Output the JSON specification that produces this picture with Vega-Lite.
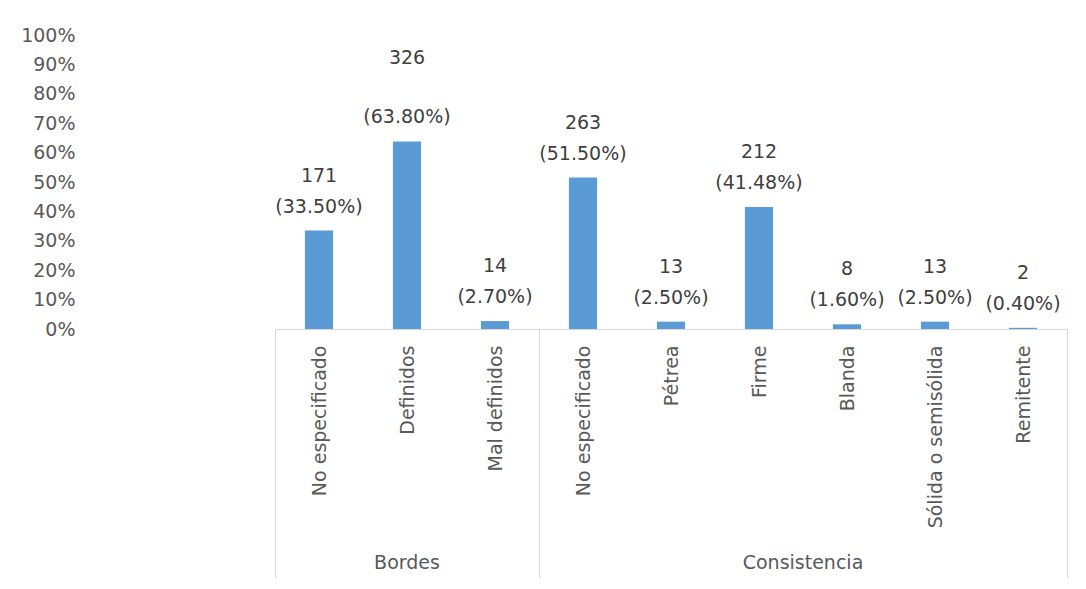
{
  "$schema": "https://vega.github.io/schema/vega-lite/v6.json",
  "width": 792,
  "height": 294,
  "autosize": "none",
  "padding": {"left": 275, "top": 35, "right": 19, "bottom": 260},
  "background": "white",
  "config": {"view": {"stroke": null}, "font": "DejaVu Sans", "axisY": {"labelOverlap": false}},
  "data": {
    "values": [
      {"key": "Bordes|No especificado", "group": "Bordes", "name": "No especificado", "n": 171, "pct": 0.335, "pct_text": "(33.50%)"},
      {"key": "Bordes|Definidos", "group": "Bordes", "name": "Definidos", "n": 326, "pct": 0.638, "pct_text": "(63.80%)"},
      {"key": "Bordes|Mal definidos", "group": "Bordes", "name": "Mal definidos", "n": 14, "pct": 0.027, "pct_text": "(2.70%)"},
      {"key": "Consistencia|No especificado", "group": "Consistencia", "name": "No especificado", "n": 263, "pct": 0.515, "pct_text": "(51.50%)"},
      {"key": "Consistencia|Pétrea", "group": "Consistencia", "name": "Pétrea", "n": 13, "pct": 0.025, "pct_text": "(2.50%)"},
      {"key": "Consistencia|Firme", "group": "Consistencia", "name": "Firme", "n": 212, "pct": 0.4148, "pct_text": "(41.48%)"},
      {"key": "Consistencia|Blanda", "group": "Consistencia", "name": "Blanda", "n": 8, "pct": 0.016, "pct_text": "(1.60%)"},
      {"key": "Consistencia|Sólida o semisólida", "group": "Consistencia", "name": "Sólida o semisólida", "n": 13, "pct": 0.025, "pct_text": "(2.50%)"},
      {"key": "Consistencia|Remitente", "group": "Consistencia", "name": "Remitente", "n": 2, "pct": 0.004, "pct_text": "(0.40%)"}
    ]
  },
  "layer": [
    {
      "mark": {"type": "bar", "color": "#5b9bd5", "width": {"band": 0.32}},
      "encoding": {
        "x": {
          "field": "key", "type": "nominal", "sort": null,
          "scale": {"paddingInner": 0, "paddingOuter": 0},
          "axis": {
            "title": null,
            "labelExpr": "split(datum.value, '|')[1]",
            "labelAngle": 270,
            "labelAlign": "right",
            "labelBaseline": "middle",
            "labelPadding": -233,
            "labelLimit": 0,
            "labelFontSize": 19,
            "labelColor": "#595959",
            "labelFont": "DejaVu Sans",
            "domainColor": "#d9d9d9",
            "domainWidth": 1,
            "ticks": true,
            "tickBand": "extent",
            "tickSize": 249,
            "tickColor": "#d9d9d9",
            "tickOpacity": {"condition": {"test": "datum.extra || datum.value == 'Bordes|Mal definidos' || datum.value == 'Consistencia|Remitente'", "value": 1}, "value": 0},
            "labelOverlap": false,
            "grid": false
          }
        },
        "y": {
          "field": "pct", "type": "quantitative",
          "scale": {"domain": [0, 1]},
          "axis": {
            "title": null,
            "format": ".0%",
            "values": [0, 0.1, 0.2, 0.3, 0.4, 0.5, 0.6, 0.7, 0.8, 0.9, 1],
            "tickCount": 11,
            "domain": false,
            "ticks": false,
            "grid": false,
            "offset": 195,
            "labelPadding": 5,
            "labelOverlap": false,
            "labelFontSize": 19,
            "labelColor": "#595959",
            "labelFont": "DejaVu Sans"
          }
        }
      }
    },
    {
      "mark": {"type": "text", "baseline": "alphabetic", "dy": -18, "fontSize": 19, "color": "#404040", "font": "DejaVu Sans"},
      "encoding": {
        "x": {
          "field": "key", "type": "nominal", "sort": null,
          "axis": {
            "orient": "top",
            "title": null,
            "domain": false,
            "ticks": false,
            "grid": false,
            "labelAngle": 0,
            "labelAlign": "center",
            "labelBaseline": "top",
            "labelPadding": -518,
            "labelFontSize": 19,
            "labelColor": "#595959",
            "labelFont": "DejaVu Sans",
            "labelOverlap": false,
            "labelExpr": "datum.value == 'Bordes|Definidos' ? 'Bordes' : (datum.value == 'Consistencia|Firme' ? 'Consistencia' : '')",
            "labelOffset": {"condition": {"test": "datum.value == 'Consistencia|Firme'", "value": 44}, "value": 0}
          }
        },
        "y": {"field": "pct", "type": "quantitative"},
        "text": {"field": "pct_text"}
      }
    },
    {
      "transform": [{"filter": "datum.n != 326"}],
      "mark": {"type": "text", "baseline": "alphabetic", "dy": -49, "fontSize": 19, "color": "#404040", "font": "DejaVu Sans"},
      "encoding": {
        "x": {"field": "key", "type": "nominal", "sort": null, "axis": null},
        "y": {"field": "pct", "type": "quantitative"},
        "text": {"field": "n"}
      }
    },
    {
      "transform": [{"filter": "datum.n == 326"}],
      "mark": {"type": "text", "baseline": "alphabetic", "dy": -77, "fontSize": 19, "color": "#404040", "font": "DejaVu Sans"},
      "encoding": {
        "x": {"field": "key", "type": "nominal", "sort": null, "axis": null},
        "y": {"field": "pct", "type": "quantitative"},
        "text": {"field": "n"}
      }
    }
  ],
  "resolve": {"axis": {"x": "independent"}}
}
